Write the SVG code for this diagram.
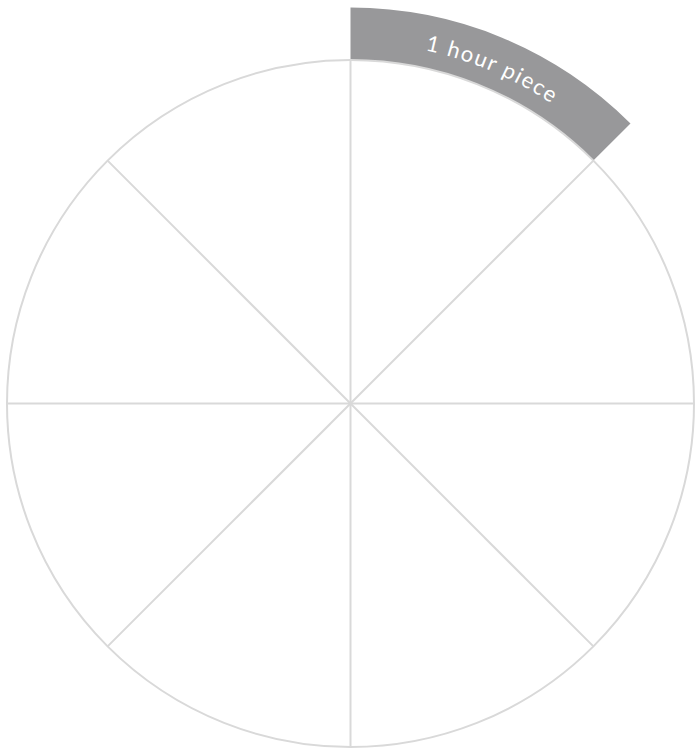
<svg xmlns="http://www.w3.org/2000/svg" width="695" height="748" viewBox="0 0 695 748">
<style>
.ln{stroke:#d9d9d9;stroke-width:2;fill:none}
.lbl{font-family:Lato,"Open Sans",sans-serif;font-size:22px;fill:#ffffff;letter-spacing:1.6px}
</style>
<defs>
<path id="arcPath" d="M350.5,42.5 A361,361 0 0 1 605.8,148.2"/>
</defs>
<rect width="695" height="748" fill="#ffffff"/>
<g id="piece">
<path d="M350.5,7.5 A396,396 0 0 1 630.5,123.5 L593.4,160.6 A343.5,343.5 0 0 0 350.5,60 Z" fill="#98989a"/>
<text class="lbl"><textPath href="#arcPath" startOffset="51%" text-anchor="middle">1 hour piece</textPath></text>
</g>
<g id="wheel">
<circle class="ln" cx="350.5" cy="403.5" r="343.5"/>
</g>
<g id="connectors">
<line class="ln" x1="350.5" y1="60" x2="350.5" y2="747"/>
<line class="ln" x1="7" y1="403.5" x2="694" y2="403.5"/>
<line class="ln" x1="107.6" y1="160.6" x2="593.4" y2="646.4"/>
<line class="ln" x1="593.4" y1="160.6" x2="107.6" y2="646.4"/>
</g>
</svg>
